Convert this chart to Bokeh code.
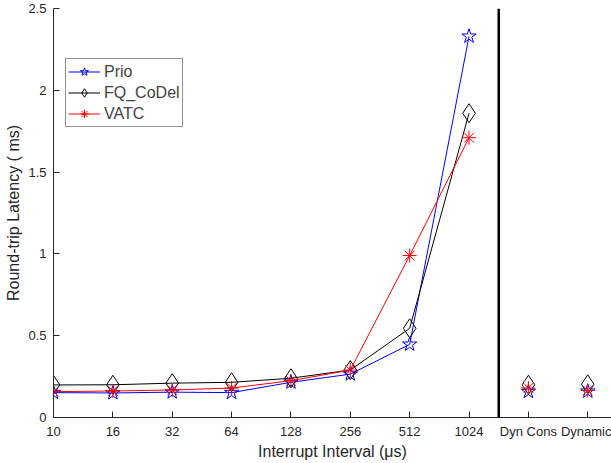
from bokeh.plotting import figure
from bokeh.models import FixedTicker, Span, Range1d, Legend, LegendItem, CustomJSTickFormatter
from bokeh.embed import file_html
from bokeh.resources import INLINE

categories = ["10", "16", "32", "64", "128", "256", "512", "1024", "Dyn Cons", "Dynamic"]
prio = [0.152, 0.150, 0.155, 0.152, 0.215, 0.265, 0.447, 2.33, 0.158, 0.160]
fq_codel = [0.199, 0.200, 0.210, 0.215, 0.240, 0.290, 0.545, 1.86, 0.200, 0.203]
vatc = [0.158, 0.162, 0.168, 0.180, 0.225, 0.290, 0.990, 1.71, 0.180, 0.165]
n_lined = 8  # first eight points (10..1024) are connected
divider_at = 7.5
y_ticks = [0, 0.5, 1, 1.5, 2, 2.5]

xs = list(range(len(categories)))

FONT = "Liberation Sans"
AX = "#262626"

p = figure(width=611, height=463, output_backend="svg", toolbar_location=None,
           x_range=Range1d(0, 9.4), y_range=Range1d(0, 2.5),
           min_border_left=53, min_border_right=0, min_border_top=8, min_border_bottom=46)
p.outline_line_color = None
p.grid.grid_line_color = None
p.background_fill_color = "white"

series = [
    ("Prio", prio, "#0000ff", "star", 15),
    ("FQ_CoDel", fq_codel, "#000000", "diamond", 19),
    ("VATC", vatc, "#ff0000", "asterisk", 14),
]
items = []
for name, ys, col, mk, sz in series:
    ln = p.line(xs[:n_lined], ys[:n_lined], line_color=col, line_width=1)
    sc = p.scatter(xs, ys, marker=mk, size=sz, line_color=col, fill_color=None, line_width=1)
    items.append(LegendItem(label=name, renderers=[ln, sc]))

p.add_layout(Span(location=divider_at, dimension="height", line_color="black", line_width=2.5))

legend = Legend(items=items, location=(12, 290), label_text_font=FONT, label_text_font_size="16px",
                glyph_width=32, glyph_height=21, spacing=0, padding=2, margin=0, label_standoff=4,
                border_line_color="#262626", border_line_width=1, background_fill_alpha=1)
p.add_layout(legend, "center")

xa = p.xaxis[0]
xa.ticker = FixedTicker(ticks=xs)
xa.formatter = CustomJSTickFormatter(args=dict(labels=categories), code="return labels[Math.round(tick)]")
ya = p.yaxis[0]
ya.ticker = FixedTicker(ticks=y_ticks)
ya.formatter = CustomJSTickFormatter(code="return tick.toString()")

for ax in (xa, ya):
    ax.axis_line_color = AX
    ax.major_tick_line_color = AX
    ax.major_tick_in = 6
    ax.major_tick_out = 0
    ax.minor_tick_line_color = None
    ax.major_label_text_font = FONT
    ax.major_label_text_font_size = "13px"
    ax.major_label_text_color = AX
    ax.axis_label_text_font = FONT
    ax.axis_label_text_font_size = "16px"
    ax.axis_label_text_font_style = "normal"
    ax.axis_label_text_color = AX

xa.axis_label = "Interrupt Interval (μs)"
ya.axis_label = "Round-trip Latency ( ms)"
xa.major_label_standoff = 6
xa.axis_label_standoff = 1
ya.major_label_standoff = 7
ya.axis_label_standoff = 3

open("out.html", "w").write(file_html(p, INLINE))
